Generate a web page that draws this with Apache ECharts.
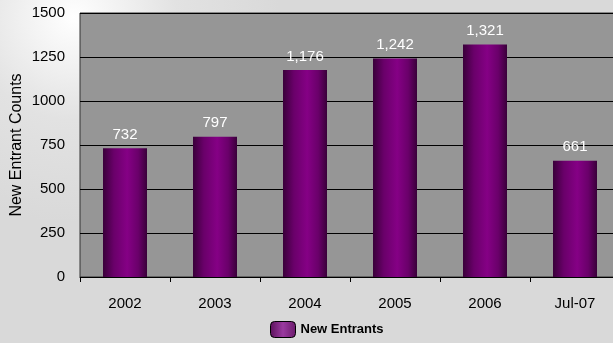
<!DOCTYPE html>
<html><head><meta charset="utf-8">
<script src="https://cdn.jsdelivr.net/npm/echarts@6/dist/echarts.min.js"></script>
<style>html,body{margin:0;padding:0;}#c{width:613px;height:343px;}</style>
</head><body><div id="c"></div>
<script>
var categories = ['2002','2003','2004','2005','2006','Jul-07'];
var newEntrants = [732, 797, 1176, 1242, 1321, 661];
var yTicks = [0, 250, 500, 750, 1000, 1250, 1500];

var barGrad = new echarts.graphic.LinearGradient(0,0,1,0,[
  {offset:0,color:'#3a003a'},
  {offset:0.25,color:'#6a006a'},
  {offset:0.55,color:'#850085'},
  {offset:0.8,color:'#6a006a'},
  {offset:1,color:'#3a003a'}
]);
var legendGrad = new echarts.graphic.LinearGradient(0,0,1,0,[
  {offset:0,color:'#5a105a'},
  {offset:0.5,color:'#9a3aa0'},
  {offset:1,color:'#6a1a6a'}
]);
var chart = echarts.init(document.getElementById('c'));
chart.setOption({
  animation:false,
  backgroundColor: new echarts.graphic.RadialGradient(0.12,0.05,0.6,[
    {offset:0,color:'#ffffff'},{offset:0.5,color:'#e2e2e2'},{offset:1,color:'#d9d9d9'}
  ]),
  textStyle:{fontFamily:'Liberation Sans, Arial, sans-serif'},
  grid:{left:80,top:13,width:540,height:264,show:true,backgroundColor:'#969696',borderColor:'#333',borderWidth:1,
    outerBoundsMode:'none',containLabel:false},
  legend:{bottom:5,left:270,padding:0,itemWidth:25,itemHeight:16,itemGap:7,
    textStyle:{fontWeight:'bold',fontSize:13,color:'#000'},
    data:[{name:'New Entrants',itemStyle:{color:legendGrad,borderColor:'#000',borderWidth:1}}]},
  xAxis:{type:'category',data:categories,
    axisLine:{lineStyle:{color:'#000'}},
    axisTick:{show:true,length:5,lineStyle:{color:'#000'}},
    axisLabel:{color:'#000',fontSize:15,margin:19}},
  yAxis:{type:'value',min:yTicks[0],max:yTicks[yTicks.length-1],interval:250,
    name:'New Entrant Counts',nameLocation:'middle',nameGap:63,nameMoveOverlap:false,
    nameTextStyle:{color:'#000',fontSize:16,verticalAlign:'middle'},
    axisLine:{show:false},axisTick:{show:false},
    axisLabel:{color:'#000',fontSize:15,margin:15,formatter:function(v){return String(v);}},
    splitLine:{lineStyle:{color:'#000',width:1}}},
  series:[{name:'New Entrants',type:'bar',data:newEntrants,barWidth:44,
    itemStyle:{color:barGrad},
    label:{show:true,position:'top',distance:6,color:'#fff',fontSize:15,
      formatter:function(p){return p.value.toLocaleString('en-US');}}}]
});
</script></body></html>
